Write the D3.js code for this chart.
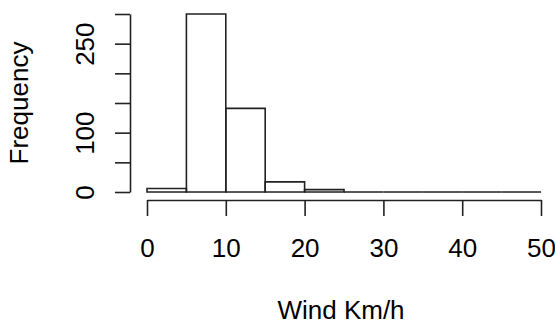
<!DOCTYPE html>
<html><head><meta charset="utf-8">
<script src="https://cdn.jsdelivr.net/npm/d3@7"></script>
<style>body{margin:0;background:#fff}svg{display:block}text{font-family:"Liberation Sans",Arial,sans-serif;fill:#000}</style>
</head><body><svg id="c" width="555" height="324"></svg>
<script>
const binStarts = [0,5,10,15,20,25,30,35,40,45];
const binWidth = 5;
const counts = [6,300,141,17,4,0,0,0,0,0];
const xTicks = [0,10,20,30,40,50];
const yTicks = [0,50,100,150,200,250,300];
const yTickLabels = ["0","","100","","","250",""];
const xTitle = "Wind Km/h";
const yTitle = "Frequency";

const svg = d3.select("#c");
const x = d3.scaleLinear().domain([0,50]).range([147,541]);
const y = d3.scaleLinear().domain([0,300]).range([192,14]);
const fs = 26;
const stroke = "#222";
const sw = 1.6;

svg.append("g").selectAll("path").data(binStarts).join("path")
  .attr("d", (d,i)=>{
    const p = d3.path();
    const x0 = x(d), x1 = x(d+binWidth), y0 = y(0), y1 = y(counts[i]);
    p.moveTo(x0,y0); p.lineTo(x0,y1); p.lineTo(x1,y1); p.lineTo(x1,y0); p.closePath();
    return p.toString();
  })
  .attr("fill","none").attr("stroke",stroke).attr("stroke-width",sw);

const xa = svg.append("g").attr("transform","translate(0,200)")
  .call(d3.axisBottom(x).tickValues(xTicks).tickSize(16).tickSizeOuter(0).tickFormat(d3.format("d")));
xa.select(".domain").attr("stroke",stroke).attr("stroke-width",sw);
xa.selectAll(".tick line").attr("stroke",stroke).attr("stroke-width",sw);
xa.selectAll(".tick text").attr("y",57).attr("dy",null)
  .style("font-size",fs+"px").style("font-family","Liberation Sans, Arial, sans-serif").attr("fill","#000");

const ya = svg.append("g").attr("transform","translate(130,0)")
  .call(d3.axisLeft(y).tickValues(yTicks).tickSize(15).tickSizeOuter(0).tickFormat((d,i)=>yTickLabels[i]));
ya.select(".domain").attr("stroke",stroke).attr("stroke-width",sw);
ya.selectAll(".tick line").attr("stroke",stroke).attr("stroke-width",sw);
ya.selectAll(".tick text").attr("x",null).attr("dy",null)
  .attr("transform","translate(-36.5,0) rotate(-90)").attr("text-anchor","middle")
  .style("font-size",fs+"px").style("font-family","Liberation Sans, Arial, sans-serif").attr("fill","#000");

svg.append("text").attr("x",341).attr("y",319).attr("text-anchor","middle")
  .style("font-size",fs+"px").text(xTitle);
svg.append("text").attr("transform","translate(28,103) rotate(-90)").attr("text-anchor","middle")
  .style("font-size",fs+"px").text(yTitle);
</script></body></html>
